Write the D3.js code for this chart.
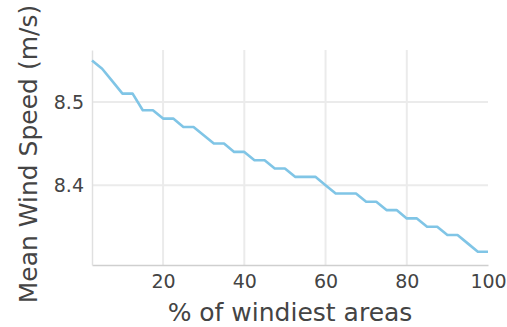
<!DOCTYPE html>
<html>
<head>
<meta charset="utf-8">
<script src="https://cdn.jsdelivr.net/npm/d3@7"></script>
<style>
  html, body { margin: 0; padding: 0; background: #fff; }
  text { font-family: "DejaVu Sans", Verdana, sans-serif; fill: #444; }
</style>
</head>
<body>
<svg id="chart" width="507" height="327"></svg>
<script>
// Share of windiest areas considered (%)
const pctAreas = [2.5, 5, 7.5, 10, 12.5, 15, 17.5, 20, 22.5, 25,
                  27.5, 30, 32.5, 35, 37.5, 40, 42.5, 45, 47.5, 50,
                  52.5, 55, 57.5, 60, 62.5, 65, 67.5, 70, 72.5, 75,
                  77.5, 80, 82.5, 85, 87.5, 90, 92.5, 95, 97.5, 100];
// Mean wind speed over those areas (m/s)
const meanSpeed = [8.55, 8.54, 8.525, 8.51, 8.51, 8.49, 8.49, 8.48, 8.48, 8.47,
                   8.47, 8.46, 8.45, 8.45, 8.44, 8.44, 8.43, 8.43, 8.42, 8.42,
                   8.41, 8.41, 8.41, 8.40, 8.39, 8.39, 8.39, 8.38, 8.38, 8.37,
                   8.37, 8.36, 8.36, 8.35, 8.35, 8.34, 8.34, 8.33, 8.32, 8.32];
const xTicks = [20, 40, 60, 80, 100];
const yTicks = [8.4, 8.5];
const xDomain = [2.5, 100];
const yDomain = [8.304, 8.5625];

const svg = d3.select("#chart");
const plot = { left: 92, right: 488, top: 50, bottom: 265 };

const x = d3.scaleLinear().domain(xDomain).range([plot.left, plot.right]);
const y = d3.scaleLinear().domain(yDomain).range([plot.bottom, plot.top]);

// Grid lines
const grid = svg.append("g");
grid.selectAll("line.vg")
  .data(xTicks.filter(t => t < xDomain[1]))
  .join("line")
  .attr("x1", d => x(d)).attr("x2", d => x(d))
  .attr("y1", plot.top).attr("y2", plot.bottom)
  .attr("stroke", "#ebebeb").attr("stroke-width", 2);
grid.selectAll("line.hg")
  .data(yTicks)
  .join("line")
  .attr("x1", plot.left).attr("x2", plot.right)
  .attr("y1", d => y(d)).attr("y2", d => y(d))
  .attr("stroke", "#ebebeb").attr("stroke-width", 2);

// Axes (lines + labels), drawn via d3 axis generators
const xAxis = svg.append("g")
  .attr("transform", `translate(0,${plot.bottom})`)
  .call(d3.axisBottom(x).tickValues(xTicks).tickSize(0).tickPadding(10).tickFormat(d3.format("d")));
xAxis.select(".domain").attr("stroke", "#cfcfcf").attr("stroke-width", 1.5);
xAxis.selectAll("text").attr("font-size", 19).attr("fill", "#444")
  .attr("font-family", "DejaVu Sans, Verdana, sans-serif");

const yAxis = svg.append("g")
  .attr("transform", `translate(${plot.left},0)`)
  .call(d3.axisLeft(y).tickValues(yTicks).tickSize(0).tickPadding(8).tickFormat(d3.format(".1f")));
yAxis.select(".domain").attr("stroke", "#e0e0e0").attr("stroke-width", 1.5);
yAxis.selectAll("text").attr("font-size", 19).attr("fill", "#444")
  .attr("font-family", "DejaVu Sans, Verdana, sans-serif");

// Data line
const line = d3.line()
  .x((d, i) => x(pctAreas[i]))
  .y(d => y(d));
svg.append("path")
  .datum(meanSpeed)
  .attr("d", line)
  .attr("fill", "none")
  .attr("stroke", "#80c5e6")
  .attr("stroke-width", 2.6)
  .attr("stroke-linejoin", "round");

// Axis titles
svg.append("text")
  .attr("x", 290)
  .attr("y", 321)
  .attr("text-anchor", "middle")
  .attr("font-size", 25)
  .text("% of windiest areas");

svg.append("text")
  .attr("transform", "translate(37,154) rotate(-90)")
  .attr("text-anchor", "middle")
  .attr("font-size", 25)
  .text("Mean Wind Speed (m/s)");
</script>
</body>
</html>
